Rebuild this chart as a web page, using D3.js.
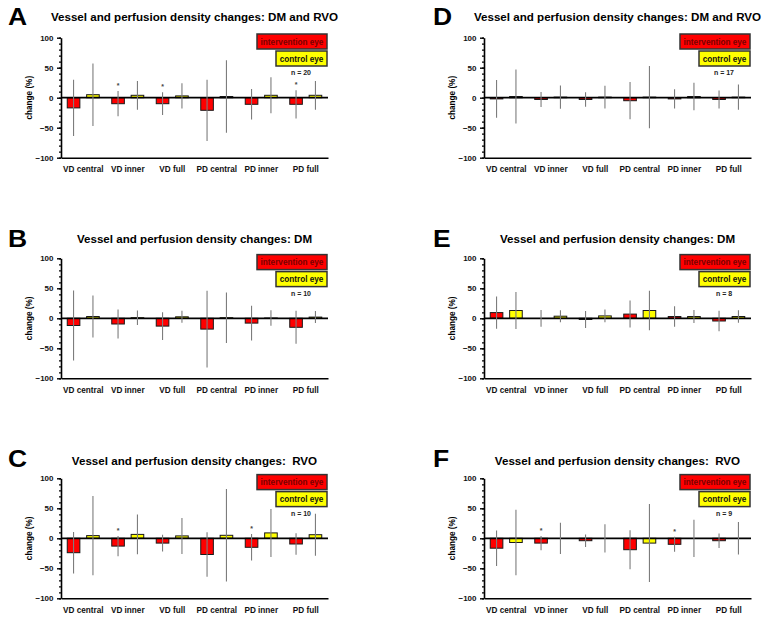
<!DOCTYPE html>
<html>
<head>
<meta charset="utf-8">
<script src="https://cdn.jsdelivr.net/npm/d3@7"></script>
<style>
  body { margin: 0; background: #fff; }
  text { font-family: "Liberation Sans", Arial, sans-serif; font-weight: bold; white-space: pre; }
</style>
</head>
<body>
<div id="chart"></div>
<script>
// Panels in order A, B, C (left column) then D, E, F (right column).
const categories = ["VD central", "VD inner", "VD full", "PD central", "PD inner", "PD full"];
const letters = ["A", "B", "C", "D", "E", "F"];
const titles = [
    "Vessel and perfusion density changes: DM and RVO",
    "Vessel and perfusion density changes: DM",
    "Vessel and perfusion density changes:  RVO",
    "Vessel and perfusion density changes: DM and RVO",
    "Vessel and perfusion density changes: DM",
    "Vessel and perfusion density changes:  RVO"
];
const nLabels = ["n = 20", "n = 10", "n = 10", "n = 17", "n = 8", "n = 9"];
const yTicks = [-100, -50, 0, 50, 100];

// intervention eye: mean change and SD (%)
const interventionMean = [
    [-17, -10, -10, -21, -11, -11],
    [-12, -9.5, -13, -18, -8, -15],
    [-24, -13, -8, -27, -15, -9.5],
    [-2, -3, -3, -5, -2, -3],
    [9.5, 0, -2, 7, 3, -4.5],
    [-16.5, -8, -4, -19, -10, -4]
];
const interventionSd = [
    [47, 21, 19, 51, 25.5, 23.5],
    [58.5, 24, 23, 64, 29, 27.5],
    [34.5, 17, 14, 37, 22, 18],
    [31.5, 12.5, 12, 31, 16, 15],
    [27, 14, 14, 22.5, 17, 17],
    [29.5, 12, 10.5, 32.5, 12.5, 12]
];
// control eye: mean change and SD (%)
const controlMean = [
    [5, 4, 3, 2, 4, 4],
    [3, 1, 2.5, 1, 0.5, 2],
    [4.5, 6.5, 4, 5, 9, 6],
    [2, 1, 1, 1, 2, 1],
    [13, 3.5, 4, 13, 3, 3],
    [-7, 0, 0, -8, 0, 0]
];
const controlSd = [
    [52, 24, 21, 60.5, 30, 24],
    [35, 12, 10, 42, 13, 10],
    [66, 33, 30, 77, 40, 35],
    [45, 19.5, 19, 52, 23, 21],
    [31, 10, 10.5, 33, 11, 10.5],
    [54.5, 26, 23.5, 65, 31, 27]
];
// significance marks on the intervention bars
const significant = [
    [0, 1, 1, 0, 0, 1],
    [0, 0, 0, 0, 0, 0],
    [0, 1, 0, 0, 1, 0],
    [0, 0, 0, 0, 0, 0],
    [0, 0, 0, 0, 0, 0],
    [0, 1, 0, 0, 1, 0]
];

// Layout.
const colX = [61, 484];
const rowTop = [37.7, 258.3, 478.3];
const titleOffset = [-16.5, -15, -13.3];
const letterY = [25, 247.3, 466.5];
const plotW = 267;
const plotH = 120;

const svg = d3.select("#chart").append("svg")
    .attr("width", 767)
    .attr("height", 620);

function drawPanel(p) {
    const col = p < 3 ? 0 : 1;
    const row = p % 3;
    const x0 = colX[col];
    const top = rowTop[row];

    const x = d3.scaleBand().domain(categories).range([x0, x0 + plotW]);
    const bw = x.bandwidth();
    const xSub = d3.scaleBand()
        .domain(["int", "ctl"])
        .range([bw / 2 - 16, bw / 2 + 16])
        .paddingInner(0.35);
    const y = d3.scaleLinear().domain([-100, 100]).range([top + plotH, top]);

    const g = svg.append("g");

    // panel letter
    g.append("text")
        .attr("transform", "translate(" + (col ? 433 : 8) + "," + letterY[row] + ") scale(1.15,1)")
        .style("font-size", "23px")
        .text(letters[p]);

    // title
    g.append("text")
        .attr("x", x0 + plotW / 2)
        .attr("y", top + titleOffset[row])
        .attr("text-anchor", "middle")
        .style("font-size", "11.6px")
        .text(titles[p]);

    // y axis, minor ticks first
    g.append("g")
        .attr("transform", "translate(" + x0 + ",0)")
        .call(d3.axisLeft(y).tickValues(d3.range(-100, 101, 10)).tickSize(2).tickFormat(""))
        .call(a => a.select(".domain").remove())
        .selectAll("line").attr("stroke-width", 1.2);
    const ya = g.append("g")
        .attr("transform", "translate(" + x0 + ",0)")
        .call(d3.axisLeft(y).tickValues(yTicks).tickSize(4).tickSizeOuter(0).tickPadding(3.5));
    ya.select(".domain").attr("stroke-width", 1.6);
    ya.selectAll("line").attr("stroke-width", 1.4);
    ya.selectAll("text").style("font-size", "8px").style("font-weight", "bold").attr("fill", "#111");

    // y label
    g.append("text")
        .attr("transform", "translate(" + (x0 - 29) + "," + y(0) + ") rotate(-90)")
        .attr("text-anchor", "middle")
        .style("font-size", "8.2px")
        .text("change (%)");

    // bottom frame with category labels
    const xa = g.append("g")
        .attr("transform", "translate(0," + y(-100) + ")")
        .call(d3.axisBottom(x).tickSize(0).tickPadding(8.5));
    xa.select(".domain").attr("stroke-width", 1.6);
    xa.selectAll("text").style("font-size", "8.2px").style("font-weight", "bold").attr("fill", "#111");

    const rows = categories.map((c, i) => [
        { cat: c, key: "int", mean: interventionMean[p][i], sd: interventionSd[p][i], sig: significant[p][i], fill: "#ff0000" },
        { cat: c, key: "ctl", mean: controlMean[p][i], sd: controlSd[p][i], sig: 0, fill: "#ffff00" }
    ]).flat();

    // bars
    g.append("g").selectAll("rect")
        .data(rows)
        .join("rect")
        .attr("x", d => x(d.cat) + xSub(d.key))
        .attr("width", xSub.bandwidth())
        .attr("y", d => y(Math.max(0, d.mean)))
        .attr("height", d => Math.abs(y(d.mean) - y(0)))
        .attr("fill", d => d.fill)
        .attr("stroke", "#1a1a1a")
        .attr("stroke-width", 1);

    // zero line
    g.append("line")
        .attr("x1", x0).attr("x2", x0 + plotW)
        .attr("y1", y(0)).attr("y2", y(0))
        .attr("stroke", "#000")
        .attr("stroke-width", 1.8);

    // error bars (SD)
    g.append("g").selectAll("line")
        .data(rows)
        .join("line")
        .attr("x1", d => x(d.cat) + xSub(d.key) + xSub.bandwidth() / 2)
        .attr("x2", d => x(d.cat) + xSub(d.key) + xSub.bandwidth() / 2)
        .attr("y1", d => y(d.mean + d.sd))
        .attr("y2", d => y(d.mean - d.sd))
        .attr("stroke", "#7d7d7d")
        .attr("stroke-width", 1.1);

    // asterisks
    g.append("g").selectAll("text")
        .data(rows.filter(d => d.sig))
        .join("text")
        .attr("x", d => x(d.cat) + xSub(d.key) + xSub.bandwidth() / 2)
        .attr("y", d => y(d.mean + d.sd) - 3)
        .attr("text-anchor", "middle")
        .attr("fill", "#444")
        .style("font-size", "7px")
        .text("*");

    // legend
    const legend = [
        { label: "intervention eye", fill: "#ff0000", color: "#7a0000", x: 196, w: 70, y: -3.7 },
        { label: "control eye", fill: "#ffff00", color: "#111", x: 215, w: 51, y: 13.3 }
    ];
    legend.forEach(l => {
        g.append("rect")
            .attr("x", x0 + l.x).attr("y", top + l.y)
            .attr("width", l.w).attr("height", 15)
            .attr("fill", l.fill)
            .attr("stroke", "#333")
            .attr("stroke-width", 1.5);
        g.append("text")
            .attr("x", x0 + l.x + l.w / 2).attr("y", top + l.y + 10.6)
            .attr("text-anchor", "middle")
            .attr("fill", l.color)
            .style("font-size", "8.2px")
            .text(l.label);
    });
    g.append("text")
        .attr("x", x0 + 240).attr("y", top + 37.5)
        .attr("text-anchor", "middle")
        .attr("fill", "#222")
        .style("font-size", "7px")
        .text(nLabels[p]);
}

for (let p = 0; p < 6; p++) drawPanel(p);
</script>
</body>
</html>
